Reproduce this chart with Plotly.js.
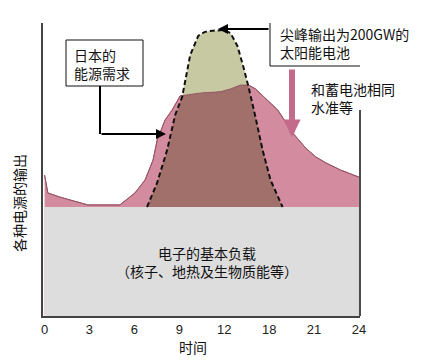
<!DOCTYPE html>
<html>
<head>
<meta charset="utf-8">
<script src="https://cdn.plot.ly/plotly-3.0.1.min.js"></script>
<style>html,body{margin:0;padding:0;background:#fff;}#chart{width:430px;height:360px;}</style>
</head>
<body>
<div id="chart"></div>
<script>
// ---- data (x: hour of day, y: relative output, 0-100) ----
const hoursDemand = [0, 0.25, 1.15, 3.3, 5.75, 6.9, 7.67, 8.28, 8.6, 9.2, 9.74, 10.35, 11.9, 13.4, 14.2, 14.95, 15.57, 16.1, 17.0, 17.8, 18.94, 19.94, 20.7, 21.5, 22.6, 24];
const demandOutput = [48.1, 42.0, 40.6, 37.9, 37.9, 42.0, 46.4, 53.2, 60.1, 66.9, 70.3, 75.1, 76.1, 76.5, 77.5, 78.8, 78.8, 77.5, 73.7, 70.3, 62.5, 57.3, 54.3, 52.2, 49.8, 47.4];
const hoursSolar = [7.82, 8.59, 9.36, 9.97, 10.5, 11.12, 11.73, 12.2, 12.65, 13.65, 14.19, 14.72, 15.18, 15.57, 16.1, 16.64, 17.25, 18.17];
const solarOutput = [37.2, 45.4, 56.7, 68.6, 74.7, 89.1, 95.6, 96.9, 97.3, 97.6, 96.6, 92.2, 85.0, 78.2, 67.9, 56.7, 46.4, 37.2];
const baseHours = [0, 24];
const baseOutput = [37.2, 37.2];
const tickLabels = ['0', '3', '6', '9', '12', '18', '21', '24'];

// ---- helpers ----
function interp(xs, ys, x) {
  if (x <= xs[0]) return ys[0];
  if (x >= xs[xs.length - 1]) return ys[ys.length - 1];
  for (let i = 1; i < xs.length; i++) {
    if (x <= xs[i]) {
      const t = (x - xs[i - 1]) / (xs[i] - xs[i - 1]);
      return ys[i - 1] + t * (ys[i] - ys[i - 1]);
    }
  }
}
// overlap (min of demand and solar) over the solar span
const grid = Array.from(new Set(hoursSolar.concat(hoursDemand.filter(h => h > hoursSolar[0] && h < hoursSolar[hoursSolar.length - 1])))).sort((a, b) => a - b);
const ovX = [], ovY = [];
for (let i = 0; i < grid.length; i++) {
  const x = grid[i];
  const d = interp(hoursDemand, demandOutput, x), s = interp(hoursSolar, solarOutput, x);
  if (i > 0) {
    const xp = grid[i - 1];
    const dp = interp(hoursDemand, demandOutput, xp), sp = interp(hoursSolar, solarOutput, xp);
    if ((dp - sp) * (d - s) < 0) {
      const t = (dp - sp) / ((dp - sp) - (d - s));
      ovX.push(xp + t * (x - xp));
      ovY.push(dp + t * (d - dp));
    }
  }
  ovX.push(x); ovY.push(Math.min(d, s));
}

// pixel -> axis / paper helpers for annotation placement
const XR = [-0.12, 24.08];
const X = px => XR[0] + (px - 43) * (XR[1] - XR[0]) / 317;
const Y = py => (316 - py) * 100 / 293;
const PX = px => (px - 43) / 317;
const PY = py => (316 - py) / 293;

const PINK = 'rgb(211,139,160)';
const BROWN = 'rgb(161,112,106)';
const GREEN = 'rgb(198,201,162)';
const GRAY = 'rgb(221,221,221)';
const CJK = '"Noto Sans CJK SC", "Noto Sans", sans-serif';

const traces = [
  {x: hoursDemand, y: demandOutput, type: 'scatter', mode: 'lines', fill: 'tozeroy', fillcolor: PINK,
   line: {color: 'rgb(165,95,115)', width: 1}, hoverinfo: 'skip'},
  {x: hoursSolar, y: solarOutput, type: 'scatter', mode: 'lines', fill: 'tozeroy', fillcolor: GREEN,
   line: {width: 0, color: GREEN}, hoverinfo: 'skip'},
  {x: ovX, y: ovY, type: 'scatter', mode: 'lines', fill: 'tozeroy', fillcolor: BROWN,
   line: {width: 0, color: BROWN}, hoverinfo: 'skip'},
  {x: hoursDemand, y: demandOutput, type: 'scatter', mode: 'lines',
   line: {color: 'rgb(150,85,100)', width: 1}, hoverinfo: 'skip'},
  {x: baseHours, y: baseOutput, type: 'scatter', mode: 'lines', fill: 'tozeroy', fillcolor: GRAY,
   line: {width: 0, color: GRAY}, hoverinfo: 'skip'},
  {x: hoursSolar, y: solarOutput, type: 'scatter', mode: 'lines',
   line: {color: '#111', width: 2, dash: '5px,3px'}, hoverinfo: 'skip'}
];

const tickVals = tickLabels.map((_, i) => i * 24 / (tickLabels.length - 1));

const txt = (t, px, py, size, anchor, extra) => Object.assign({
  text: t, x: PX(px), y: PY(py), xref: 'paper', yref: 'paper', showarrow: false,
  xanchor: anchor || 'left', yanchor: 'middle', align: anchor === 'center' ? 'center' : 'left',
  font: {family: CJK, size: size, color: '#111'}
}, extra || {});

const layout = {
  width: 430, height: 360,
  margin: {l: 43, r: 70, t: 23, b: 44},
  paper_bgcolor: '#fff', plot_bgcolor: '#fff',
  showlegend: false,
  xaxis: {range: XR, showgrid: false, zeroline: false, showline: true, linecolor: '#444', linewidth: 2,
          tickvals: tickVals, ticktext: tickLabels, ticks: '',
          tickfont: {family: '"Liberation Sans", Arial, sans-serif', size: 13, color: '#222'}},
  yaxis: {range: [0, 100], showgrid: false, zeroline: false, showline: true, linecolor: '#444', linewidth: 2,
          showticklabels: false, ticks: ''},
  shapes: [
    {type: 'line', xref: 'paper', x0: 1, x1: 1, yref: 'y', y0: 0, y1: Y(110), line: {color: '#111', width: 1.5}},
    {type: 'rect', xref: 'x', yref: 'y', x0: X(66), x1: X(143), y0: Y(40), y1: Y(86), fillcolor: '#fff', line: {color: '#111', width: 1}},
    {type: 'rect', xref: 'x', yref: 'y', x0: X(270), x1: X(419), y0: Y(21), y1: Y(66), fillcolor: '#fff', line: {color: '#111', width: 1}},
    {type: 'line', xref: 'x', yref: 'y', x0: X(100), x1: X(100), y0: Y(86), y1: Y(134), line: {color: '#000', width: 2}}
  ],
  annotations: [
    txt('日本的<br>能源需求', 72, 64, 14),
    txt('尖峰输出为200GW的<br>太阳能电池', 278, 43, 14),
    txt('和蓄电池相同<br>水准等', 309, 98, 14),
    txt('电子的基本负载<br>（核子、地热及生物质能等）', 207, 262, 14, 'center'),
    txt('时间', 193, 347, 14, 'center'),
    txt('各种电源的输出', 19, 203, 14, 'center', {textangle: -90}),
    {x: X(166), y: Y(134), ax: X(100), ay: Y(134), axref: 'x', ayref: 'y', xref: 'x', yref: 'y', text: '',
     showarrow: true, arrowhead: 2, arrowsize: 1, arrowwidth: 2, arrowcolor: '#000'},
    {x: X(218), y: Y(29), ax: X(270), ay: Y(29), axref: 'x', ayref: 'y', xref: 'x', yref: 'y', text: '',
     showarrow: true, arrowhead: 2, arrowsize: 1, arrowwidth: 2, arrowcolor: '#000'},
    {x: X(292), y: Y(137), ax: X(292), ay: Y(68), axref: 'x', ayref: 'y', xref: 'x', yref: 'y', text: '',
     showarrow: true, arrowhead: 2, arrowsize: 0.58, arrowwidth: 6, arrowcolor: 'rgb(196,106,138)'}
  ]
};

Plotly.newPlot('chart', traces, layout, {staticPlot: true, displayModeBar: false});
</script>
</body>
</html>
